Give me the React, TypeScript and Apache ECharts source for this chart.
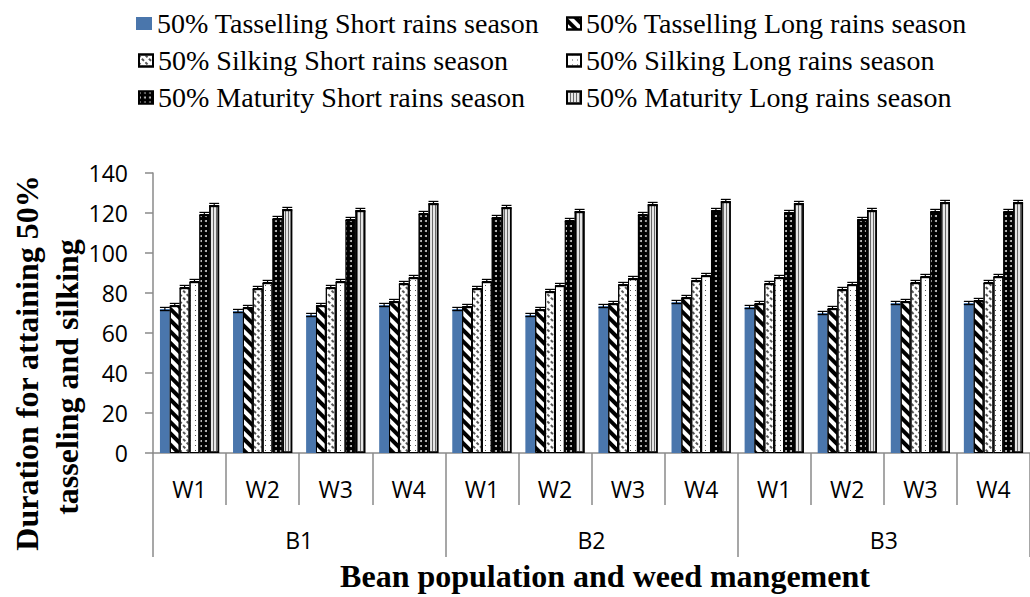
import React, { useEffect, useRef } from 'react';
import * as echarts from 'echarts';

const weedLevels = ['W1', 'W2', 'W3', 'W4', 'W1', 'W2', 'W3', 'W4', 'W1', 'W2', 'W3', 'W4'];
const beanGroups = ['B1', 'B2', 'B3'];
const yMin = 0;
const yMax = 140;
const yStep = 20;

const seriesNames = [
  '50% Tasselling Short rains season',
  '50% Tasselling Long rains season',
  '50% Silking Short rains season',
  '50% Silking Long rains season',
  '50% Maturity Short rains season',
  '50% Maturity Long rains season',
];

const tasselShort = [72, 71, 69, 74, 72, 69, 73.5, 75.5, 73, 70, 75, 75];
const tasselLong = [74, 73, 74, 76, 73.5, 72, 75, 78, 75, 72.5, 76, 76.5];
const silkShort = [83, 82.5, 83, 85, 82.5, 81, 84.5, 86.5, 85, 82, 85.5, 85.5];
const silkLong = [86, 85.5, 86, 88, 86, 84, 87.5, 89, 88, 84.5, 88.5, 88.5];
const matShort = [119.5, 117.5, 117, 120, 118, 116.5, 119.5, 121.5, 120.5, 117, 121, 121];
const matLong = [124, 122, 121.5, 125, 123, 121, 124.5, 126, 125, 121.5, 125.5, 125.5];
const stdErr = [0.8, 0.8, 0.8, 0.8, 0.8, 0.8];

const seriesValues = [tasselShort, tasselLong, silkShort, silkLong, matShort, matLong];

const CAT_GAP = 0.19;

const itemStyles: any[] = [
  { color: '#4A76AC', borderWidth: 0 },
  {
    color: '#ffffff', borderColor: '#000', borderWidth: 1,
    decal: { symbol: 'rect', color: '#000', backgroundColor: '#fff', dashArrayX: [1, 0], dashArrayY: [4, 4], rotation: Math.PI / 4 },
  },
  {
    color: '#ffffff', borderColor: '#000', borderWidth: 1,
    decal: { symbol: 'rect', color: '#555', backgroundColor: '#fff', dashArrayX: [3, 2], dashArrayY: [2, 3], rotation: Math.PI / 4 },
  },
  {
    color: '#ffffff', borderColor: '#000', borderWidth: 1,
    decal: { symbol: 'rect', color: '#555', backgroundColor: '#fff', dashArrayX: [1, 4], dashArrayY: [1, 4] },
  },
  {
    color: '#000000', borderColor: '#000', borderWidth: 1,
    decal: { symbol: 'circle', color: '#cfcfcf', backgroundColor: '#000', dashArrayX: [2, 3], dashArrayY: [2, 3] },
  },
  {
    color: '#e6e6e6', borderColor: '#000', borderWidth: 1.5,
    decal: { symbol: 'rect', color: '#6a6a6a', backgroundColor: '#ececec', dashArrayX: [1, 2], dashArrayY: [4, 0] },
  },
];

const legendFont = { fontFamily: '"Liberation Serif", "Times New Roman", serif', fontSize: 28, color: '#000' };
const tickFont = { fontFamily: '"Open Sans", sans-serif', fontSize: 23, color: '#000' };

export default function App() {
  const ref = useRef<HTMLDivElement>(null);

  useEffect(() => {
    document.body.style.margin = '0';
    if (!ref.current) return;
    const chart = echarts.init(ref.current, undefined, { renderer: 'svg' });

    const barSeries = seriesNames.map((name, s) => ({
      name,
      type: 'bar',
      xAxisIndex: 0,
      data: seriesValues[s],
      barGap: '0%',
      barCategoryGap: `${CAT_GAP * 100}%`,
      itemStyle: itemStyles[s],
      emphasis: { disabled: true },
    }));

    const errData: number[][] = [];
    seriesValues.forEach((vals, s) => {
      vals.forEach((v, i) => errData.push([i, v, stdErr[s], s]));
    });

    const errSeries = {
      type: 'custom',
      xAxisIndex: 0,
      data: errData,
      encode: { x: 0, y: 1 },
      z: 5,
      silent: true,
      renderItem: (params: any, api: any) => {
        const cat = api.value(0);
        const v = api.value(1);
        const e = api.value(2);
        const s = api.value(3);
        const catW = api.size([1, 0])[0];
        const bw = (catW * (1 - CAT_GAP)) / 6;
        const cx = api.coord([cat, 0])[0] + (s - 2.5) * bw;
        const top = api.coord([cat, v + e])[1];
        const bot = api.coord([cat, v - e])[1];
        const hw = bw / 2;
        const st = { stroke: '#000', lineWidth: 1.2 };
        return {
          type: 'group',
          children: [
            { type: 'line', shape: { x1: cx, y1: top, x2: cx, y2: bot }, style: st },
            { type: 'line', shape: { x1: cx - hw, y1: top, x2: cx + hw, y2: top }, style: st },
            { type: 'line', shape: { x1: cx - hw, y1: bot, x2: cx + hw, y2: bot }, style: st },
          ],
        };
      },
    };

    const textStart = [157, 585];
    const rowTop = [9.5, 46.5, 83.5];
    const legendOrder = [[0, 2, 4], [1, 3, 5]];
    const legends: any[] = [];
    legendOrder.forEach((col, c) => {
      col.forEach((sIdx, r) => {
        const iw = sIdx === 0 ? 16 : 14;
        const ih = sIdx === 0 ? 13 : 12;
        legends.push({
          data: [seriesNames[sIdx]],
          left: textStart[c] - 5 - iw,
          top: rowTop[r],
          padding: 0,
          itemWidth: iw,
          itemHeight: ih,
          icon: 'rect',
          selectedMode: false,
          textStyle: legendFont,
        });
      });
    });

    const titleFont = '"Liberation Serif", "Times New Roman", serif';

    chart.setOption({
      animation: false,
      legend: legends,
      grid: { left: 153, top: 173, width: 882, height: 280, containLabel: false },
      xAxis: [
        {
          type: 'category',
          data: weedLevels,
          position: 'bottom',
          axisLine: { show: true, lineStyle: { color: '#8a8a8a', width: 1.5 } },
          axisTick: { show: true, length: 52, lineStyle: { color: '#8a8a8a', width: 1.5 } },
          axisLabel: { ...tickFont, margin: 24 },
          splitLine: { show: false },
        },
        {
          type: 'category',
          data: beanGroups,
          position: 'bottom',
          offset: 52,
          axisLine: { show: false },
          axisTick: { show: true, length: 52, lineStyle: { color: '#8a8a8a', width: 1.5 } },
          axisLabel: { ...tickFont, margin: 23 },
          splitLine: { show: false },
        },
      ],
      yAxis: {
        type: 'value',
        min: yMin,
        max: yMax,
        interval: yStep,
        axisLine: { show: true, lineStyle: { color: '#8a8a8a', width: 1.5 } },
        axisTick: { show: true, length: 8, lineStyle: { color: '#8a8a8a', width: 1.5 } },
        axisLabel: { ...tickFont, margin: 25 },
        splitLine: { show: false },
      },
      series: [...barSeries, errSeries],
      graphic: [
        {
          type: 'text',
          x: 27,
          y: 363,
          rotation: Math.PI / 2,
          style: {
            text: 'Duration for attaining 50%',
            fontFamily: titleFont,
            fontWeight: 'bold',
            fontSize: 32,
            fill: '#000',
            align: 'center',
            verticalAlign: 'middle',
          },
        },
        {
          type: 'text',
          x: 67,
          y: 377,
          rotation: Math.PI / 2,
          style: {
            text: 'tasseling and silking',
            fontFamily: titleFont,
            fontWeight: 'bold',
            fontSize: 32,
            fill: '#000',
            align: 'center',
            verticalAlign: 'middle',
          },
        },
        {
          type: 'text',
          x: 605,
          y: 576,
          style: {
            text: 'Bean population and weed mangement',
            fontFamily: titleFont,
            fontWeight: 'bold',
            fontSize: 32,
            fill: '#000',
            align: 'center',
            verticalAlign: 'middle',
          },
        },
      ],
    });

    return () => chart.dispose();
  }, []);

  return <div ref={ref} style={{ width: 1030, height: 597 }} />;
}
